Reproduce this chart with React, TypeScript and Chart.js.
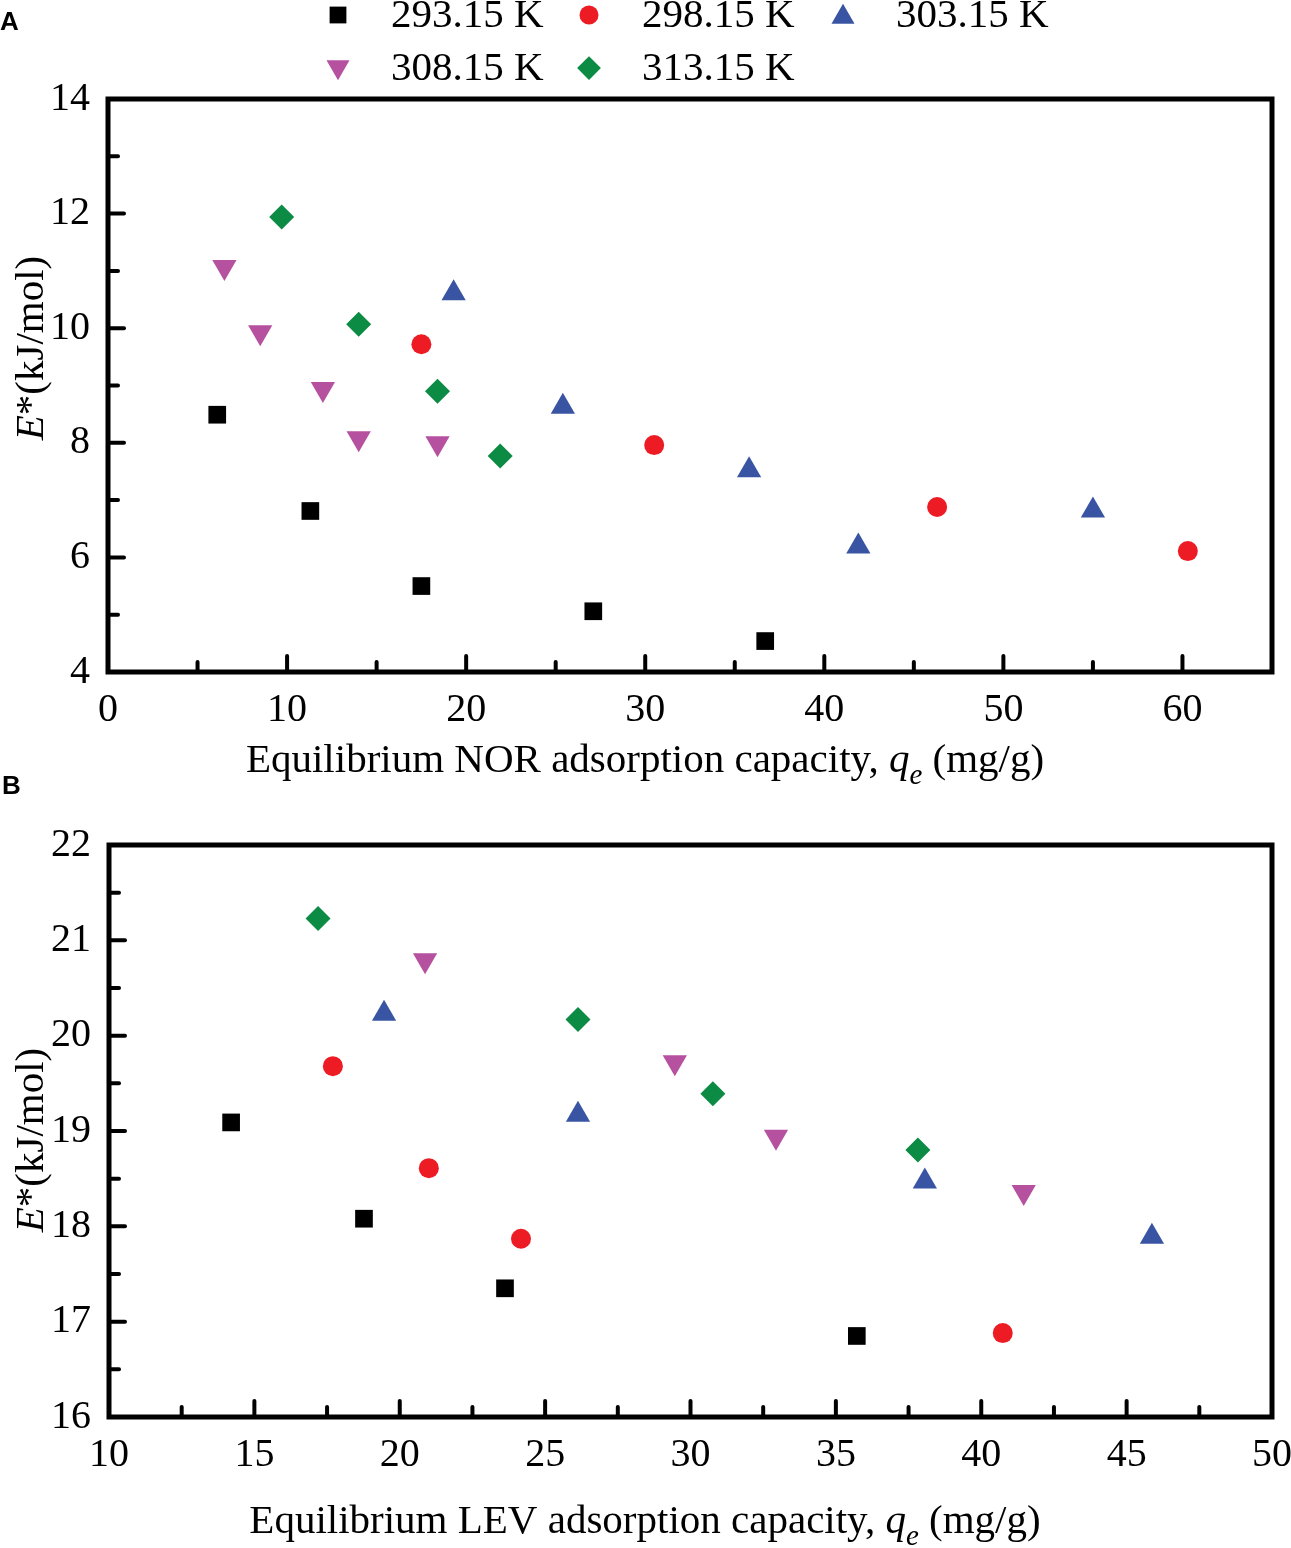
import { useEffect, useRef } from "react";
import { Chart, registerables } from "chart.js";
import { drawPoint } from "chart.js/helpers";

Chart.register(...registerables);

const tempLabels = ["293.15 K", "298.15 K", "303.15 K", "308.15 K", "313.15 K"];
const colors = ["#000000", "#ed1c24", "#3a54a4", "#b5519f", "#0b8b44"];
const pointStyles = ["rect", "circle", "triangle", "triangle", "rectRot"];
const pointRotations = [0, 0, 0, 180, 0];
const pointRadii = [12.5, 10, 14, 14, 12.5];

// panel A - NOR
const norQe293 = [6.1, 11.3, 17.5, 27.1, 36.7];
const norE293 = [8.49, 6.81, 5.5, 5.06, 4.54];
const norQe298 = [17.5, 30.5, 46.3, 60.3];
const norE298 = [9.72, 7.96, 6.88, 6.11];
const norQe303 = [19.3, 25.4, 35.8, 41.9, 55.0];
const norE303 = [10.61, 8.63, 7.52, 6.19, 6.82];
const norQe308 = [6.5, 8.5, 12.0, 14.0, 18.4];
const norE308 = [11.07, 9.93, 8.94, 8.08, 7.99];
const norQe313 = [9.7, 14.0, 18.4, 21.9];
const norE313 = [11.94, 10.07, 8.9, 7.77];

// panel B - LEV
const levQe293 = [14.2, 18.77, 23.62, 35.72];
const levE293 = [19.09, 18.08, 17.35, 16.85];
const levQe298 = [17.7, 21.0, 24.17, 40.74];
const levE298 = [19.68, 18.61, 17.87, 16.88];
const levQe303 = [19.46, 26.13, 38.06, 45.87];
const levE303 = [20.23, 19.17, 18.47, 17.89];
const levQe308 = [20.87, 29.46, 32.94, 41.46];
const levE308 = [20.79, 19.72, 18.94, 18.36];
const levQe313 = [17.19, 26.13, 30.77, 37.82];
const levE313 = [21.23, 20.17, 19.39, 18.8];

const norX = [norQe293, norQe298, norQe303, norQe308, norQe313];
const norY = [norE293, norE298, norE303, norE308, norE313];
const levX = [levQe293, levQe298, levQe303, levQe308, levQe313];
const levY = [levE293, levE298, levE303, levE308, levE313];

const SERIF = "Liberation Serif";

const makeDatasets = (xs: number[][], ys: number[][]) =>
  tempLabels.map((label, i) => ({
    label,
    data: xs[i].map((x, j) => ({ x, y: ys[i][j] })),
    backgroundColor: colors[i],
    borderColor: colors[i],
    borderWidth: 0,
    pointStyle: pointStyles[i] as any,
    rotation: pointRotations[i],
    pointRadius: pointRadii[i],
    showLine: false,
  }));

type Part = { t: string; italic?: boolean; sub?: boolean };

const drawRich = (ctx: CanvasRenderingContext2D, parts: Part[], size: number) => {
  const fontOf = (p: Part) =>
    `${p.italic ? "italic " : ""}${p.sub ? Math.round(size * 0.7) : size}px ${SERIF}`;
  let total = 0;
  const widths = parts.map((p) => {
    ctx.font = fontOf(p);
    const w = ctx.measureText(p.t).width;
    total += w;
    return w;
  });
  let x = -total / 2;
  ctx.textAlign = "left";
  ctx.textBaseline = "alphabetic";
  parts.forEach((p, i) => {
    ctx.font = fontOf(p);
    ctx.fillText(p.t, x, p.sub ? size * 0.3 : 0);
    x += widths[i];
  });
};

const framePlugin = {
  id: "frame",
  afterDraw(chart: any, _args: any, opts: any) {
    const ctx: CanvasRenderingContext2D = chart.ctx;
    const { left, right, top, bottom } = chart.chartArea;
    const xs = chart.scales.x;
    const ys = chart.scales.y;
    ctx.save();
    ctx.strokeStyle = "#000";
    ctx.fillStyle = "#000";
    ctx.lineCap = "round";
    ctx.lineWidth = 4;
    // inward ticks, major and minor
    for (let v = xs.min + opts.xMinor; v < xs.max - 1e-9; v += opts.xMinor) {
      const major = Math.abs(v / opts.xMajor - Math.round(v / opts.xMajor)) < 1e-6;
      const px = xs.getPixelForValue(v);
      ctx.beginPath();
      ctx.moveTo(px, bottom);
      ctx.lineTo(px, bottom - (major ? 16 : 10));
      ctx.stroke();
    }
    for (let v = ys.min + opts.yMinor; v < ys.max - 1e-9; v += opts.yMinor) {
      const major = Math.abs(v / opts.yMajor - Math.round(v / opts.yMajor)) < 1e-6;
      const py = ys.getPixelForValue(v);
      ctx.beginPath();
      ctx.moveTo(left, py);
      ctx.lineTo(left + (major ? 16 : 10), py);
      ctx.stroke();
    }
    ctx.lineCap = "butt";
    ctx.lineWidth = 5;
    ctx.strokeRect(left, top, right - left, bottom - top);

    // x title
    ctx.save();
    ctx.translate(opts.xTitleX, opts.xTitleY);
    drawRich(ctx, opts.xTitle, 41);
    ctx.restore();
    // y title
    ctx.save();
    ctx.translate(opts.yTitleX, opts.yTitleY);
    ctx.rotate(-Math.PI / 2);
    drawRich(ctx, [{ t: "E", italic: true }, { t: "*(kJ/mol)" }], 41);
    ctx.restore();
    // panel letter
    ctx.font = "bold 26px Liberation Sans";
    ctx.textAlign = "left";
    ctx.textBaseline = "middle";
    ctx.fillText(opts.panel, opts.panelX, opts.panelY);

    // legend
    if (opts.legend) {
      const rows = [
        { y: 15, items: [0, 1, 2] },
        { y: 68, items: [3, 4] },
      ];
      const markX = [338, 589, 843];
      ctx.font = `41px ${SERIF}`;
      ctx.textBaseline = "middle";
      rows.forEach((row) => {
        row.items.forEach((di, k) => {
          const ds = chart.data.datasets[di];
          ctx.fillStyle = ds.backgroundColor;
          ctx.strokeStyle = ds.backgroundColor;
          drawPoint(
            ctx,
            { pointStyle: ds.pointStyle, rotation: ds.rotation, radius: ds.pointRadius * 0.95, borderWidth: 0 },
            markX[k],
            row.y + (di === 2 ? 2 : di === 3 ? -1 : 0)
          );
          ctx.fillStyle = "#000";
          ctx.fillText(ds.label, markX[k] + 53, row.y + 1);
        });
      });
    }
    ctx.restore();
  },
};

const tickFont = { family: SERIF, size: 40 };

const makeConfig = (
  xs: number[][],
  ys: number[][],
  x: { min: number; max: number; step: number },
  y: { min: number; max: number; step: number },
  area: { top: number; height: number; left: number },
  frame: any
): any => ({
  type: "scatter",
  data: { datasets: makeDatasets(xs, ys) },
  plugins: [framePlugin],
  options: {
    animation: false,
    responsive: true,
    maintainAspectRatio: false,
    layout: { autoPadding: false, padding: { left: 0, right: 19, top: area.top, bottom: 0 } },
    plugins: { legend: { display: false }, tooltip: { enabled: false }, frame },
    scales: {
      x: {
        type: "linear",
        min: x.min,
        max: x.max,
        grid: { display: false },
        border: { display: false },
        ticks: { stepSize: x.step, includeBounds: false, color: "#000", font: tickFont, padding: 6, maxRotation: 0 },
        afterFit: (s: any) => {
          s.height = area.height;
          s.paddingLeft = 0;
          s.paddingRight = 0;
        },
      },
      y: {
        type: "linear",
        min: y.min,
        max: y.max,
        grid: { display: false },
        border: { display: false },
        ticks: { stepSize: y.step, includeBounds: false, color: "#000", font: tickFont, padding: 10 },
        afterFit: (s: any) => {
          s.width = area.left;
          s.paddingTop = 0;
          s.paddingBottom = 0;
        },
      },
    },
  },
});

const HEIGHT_A = 800;
const TOP_B = 760;

export default function App() {
  const refA = useRef<HTMLCanvasElement>(null);
  const refB = useRef<HTMLCanvasElement>(null);

  useEffect(() => {
    const chartA = new Chart(
      refA.current!,
      makeConfig(
        norX,
        norY,
        { min: 0, max: 65, step: 10 },
        { min: 4, max: 14, step: 2 },
        { top: 99, height: HEIGHT_A - 672, left: 108 },
        {
          xMajor: 10,
          xMinor: 5,
          yMajor: 2,
          yMinor: 1,
          xTitle: [
            { t: "Equilibrium NOR adsorption capacity, " },
            { t: "q", italic: true },
            { t: "e", italic: true, sub: true },
            { t: " (mg/g)" },
          ],
          xTitleX: 645,
          xTitleY: 772,
          yTitleX: 43,
          yTitleY: 348,
          panel: "A",
          panelX: 0,
          panelY: 23,
          legend: true,
        }
      )
    );
    const chartB = new Chart(
      refB.current!,
      makeConfig(
        levX,
        levY,
        { min: 10, max: 50, step: 5 },
        { min: 16, max: 22, step: 1 },
        { top: 845 - TOP_B, height: 1548 - 1417, left: 109 },
        {
          xMajor: 5,
          xMinor: 2.5,
          yMajor: 1,
          yMinor: 0.5,
          xTitle: [
            { t: "Equilibrium LEV adsorption capacity, " },
            { t: "q", italic: true },
            { t: "e", italic: true, sub: true },
            { t: " (mg/g)" },
          ],
          xTitleX: 645,
          xTitleY: 1533 - TOP_B,
          yTitleX: 43,
          yTitleY: 1140 - TOP_B,
          panel: "B",
          panelX: 2,
          panelY: 787 - TOP_B,
        }
      )
    );
    return () => {
      chartA.destroy();
      chartB.destroy();
    };
  }, []);

  return (
    <div style={{ position: "absolute", left: 0, top: 0, width: 1291, height: 1548, background: "#fff" }}>
      <div style={{ position: "absolute", left: 0, top: 0, width: 1291, height: HEIGHT_A }}>
        <canvas ref={refA} />
      </div>
      <div style={{ position: "absolute", left: 0, top: TOP_B, width: 1291, height: 1548 - TOP_B }}>
        <canvas ref={refB} />
      </div>
    </div>
  );
}
